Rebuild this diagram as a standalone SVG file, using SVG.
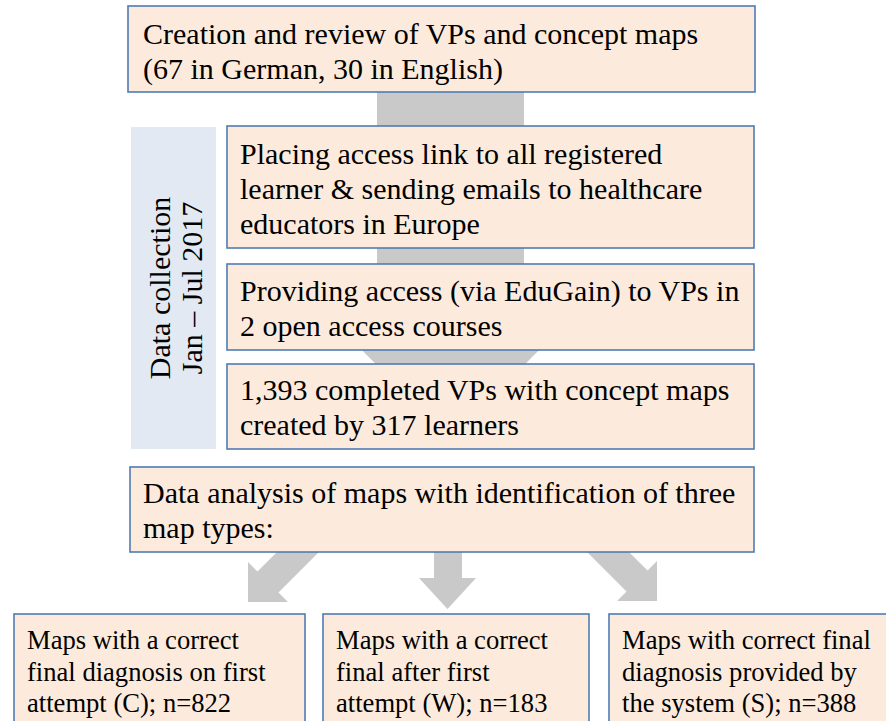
<svg xmlns="http://www.w3.org/2000/svg" width="886" height="721" viewBox="0 0 886 721">
<style>
.box{fill:#fcebdd;stroke:#4f7cb3;stroke-width:1.6}
.arr{fill:#c9c9c9}
.t{font-family:"Liberation Serif","Times New Roman",serif;font-size:30px;fill:#000}
.s{font-family:"Liberation Serif","Times New Roman",serif;font-size:26.6px;fill:#000}
</style>
<rect width="886" height="721" fill="#fff"/>
<g id="connectors">
<polygon class="arr" points="377,80 524,80 524,300 589,300 450.5,439 312,300 377,300"/>
<polygon class="arr" points="309,520 351,520 278.5,592.5 288,602 248,602 248,562 257.5,571.5"/>
<polygon class="arr" points="434,540 462,540 462,578 476,578 447.5,609 419,578 434,578"/>
<polygon class="arr" points="555,520 597,520 647.5,570.5 657,561 657,601 617,601 626.5,591.5"/>
</g>
<g id="phase">
<rect x="131" y="127" width="85" height="322" fill="#e2e9f3"/>
<text class="t" text-anchor="middle" transform="translate(170,288) rotate(-90)">Data collection</text>
<text class="t" text-anchor="middle" transform="translate(202,288) rotate(-90)">Jan – Jul 2017</text>
</g>
<g id="creation">
<rect class="box" x="128" y="6" width="627" height="86"/>
<text class="t" x="143" y="44">Creation and review of VPs and concept maps</text>
<text class="t" x="143" y="79">(67 in German, 30 in English)</text>
</g>
<g id="placing">
<rect class="box" x="227" y="126" width="527" height="122"/>
<text class="t" x="240" y="164">Placing access link to all registered</text>
<text class="t" x="240" y="199">learner &amp; sending emails to healthcare</text>
<text class="t" x="240" y="234">educators in Europe</text>
</g>
<g id="providing">
<rect class="box" x="227" y="264" width="527" height="86"/>
<text class="t" x="240" y="301">Providing access (via EduGain) to VPs in</text>
<text class="t" x="240" y="336">2 open access courses</text>
</g>
<g id="completed">
<rect class="box" x="227" y="364" width="527" height="85"/>
<text class="t" x="240" y="400">1,393 completed VPs with concept maps</text>
<text class="t" x="240" y="435">created by 317 learners</text>
</g>
<g id="analysis">
<rect class="box" x="130" y="467" width="624" height="85"/>
<text class="t" x="143" y="503">Data analysis of maps with identification of three</text>
<text class="t" x="143" y="538">map types:</text>
</g>
<g id="typeC">
<rect class="box" x="14" y="614" width="291" height="120"/>
<text class="s" x="27" y="649">Maps with a correct</text>
<text class="s" x="27" y="681">final diagnosis on first</text>
<text class="s" x="27" y="712">attempt (C); n=822</text>
</g>
<g id="typeW">
<rect class="box" x="323" y="614" width="266" height="120"/>
<text class="s" x="336" y="649">Maps with a correct</text>
<text class="s" x="336" y="681">final after first</text>
<text class="s" x="336" y="712">attempt (W); n=183</text>
</g>
<g id="typeS">
<rect class="box" x="609" y="614" width="290" height="120"/>
<text class="s" x="622" y="649">Maps with correct final</text>
<text class="s" x="622" y="681">diagnosis provided by</text>
<text class="s" x="622" y="712">the system (S); n=388</text>
</g>
</svg>
